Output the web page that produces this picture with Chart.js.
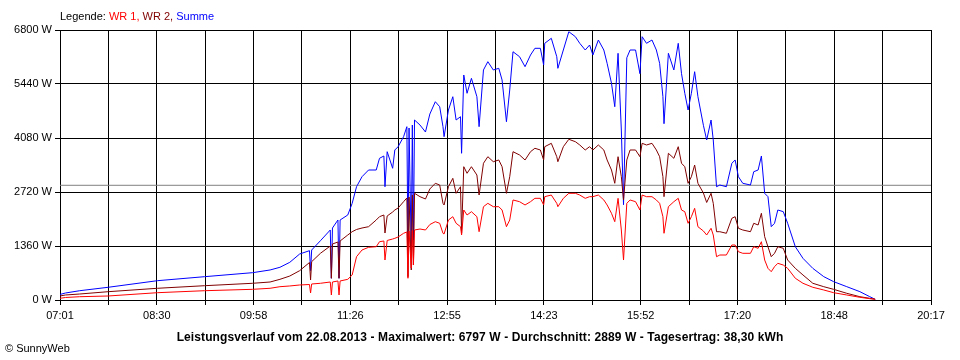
<!DOCTYPE html>
<html>
<head>
<meta charset="utf-8">
<script src="https://cdn.jsdelivr.net/npm/chart.js@4/dist/chart.umd.min.js"></script>
<style>
    body { margin: 0; background: #fff; font-family: "Liberation Sans", Arial, sans-serif; }
    #wrap { position: relative; width: 960px; height: 360px; }
    #legend { position: absolute; left: 60px; top: 10px; font-size: 11px; line-height: 13px; }
    #caption { position: absolute; left: 0; width: 960px; top: 330px; text-align: center; font-size: 12px; font-weight: bold; line-height: 14px; letter-spacing: 0.1px; }
    #copy { position: absolute; left: 5px; top: 342px; font-size: 11px; line-height: 13px; }
</style>
</head>
<body>
<div id="wrap">
    <canvas id="powerChart" width="960" height="360"></canvas>
    <div id="legend">Legende: <span style="color:#ff0000">WR 1,</span> <span style="color:#800000">WR 2,</span> <span style="color:#0000ff">Summe</span></div>
    <div id="caption">Leistungsverlauf vom 22.08.2013 - Maximalwert: 6797 W - Durchschnitt: 2889 W - Tagesertrag: 38,30 kWh</div>
    <div id="copy">© SunnyWeb</div>
</div>
<script>
// x axis labels (every second grid line)
const xLabels = ['07:01', '08:30', '09:58', '11:26', '12:55', '14:23', '15:52', '17:20', '18:48', '20:17'];
const yTicks = [0, 1360, 2720, 4080, 5440, 6800];
const average = 2889;

// sample times
const times = [
    '07:01', '07:06', '07:19', '07:45', '08:30', '09:13', '09:57', '10:13', '10:22', '10:31',
    '10:40', '10:49', '10:50', '10:51', '10:59', '11:08', '11:09', '11:10', '11:15', '11:16',
    '11:17', '11:24', '11:28', '11:32', '11:37', '11:43', '11:50', '11:53', '11:57', '11:58',
    '12:00', '12:05', '12:07', '12:10', '12:15', '12:18', '12:19', '12:20', '12:22', '12:23',
    '12:24', '12:25', '12:30', '12:35', '12:39', '12:44', '12:48', '12:51', '12:52', '12:56',
    '13:00', '13:03', '13:07', '13:08', '13:10', '13:13', '13:17', '13:22', '13:24', '13:28',
    '13:32', '13:37', '13:42', '13:45', '13:49', '13:52', '13:55', '14:01', '14:06', '14:11',
    '14:15', '14:20', '14:23', '14:24', '14:30', '14:35', '14:36', '14:41', '14:46', '14:52',
    '14:56', '15:01', '15:05', '15:08', '15:13', '15:18', '15:21', '15:25', '15:28', '15:31',
    '15:34', '15:36', '15:39', '15:42', '15:47', '15:51', '15:53', '15:57', '16:02', '16:06',
    '16:09', '16:12', '16:13', '16:17', '16:22', '16:26', '16:29', '16:32', '16:35', '16:38',
    '16:41', '16:44', '16:49', '16:52', '16:56', '16:58', '17:01', '17:04', '17:10', '17:15',
    '17:18', '17:21', '17:25', '17:32', '17:35', '17:39', '17:42', '17:45', '17:48', '17:51',
    '17:54', '17:57', '18:02', '18:06', '18:13', '18:20', '18:29', '18:39', '18:48', '19:00',
    '19:12', '19:21', '19:26'
];

const wr1 = [
    43, 63, 83, 101, 184, 234, 269, 295, 335, 353,
    378, 390, 176, 403, 421, 453, 126, 453, 479, 126,
    479, 521, 630, 1091, 1259, 1327, 1342, 1468, 1486, 1007,
    1499, 1536, 1554, 1587, 1680, 1713, 547, 1738, 806, 1750,
    881, 1763, 1788, 1763, 1901, 1972, 1932, 1680, 1662, 2015,
    2098, 1932, 1846, 1637, 2267, 2141, 2224, 2098, 1720, 2350,
    2435, 2350, 2350, 2267, 1846, 2015, 2519, 2476, 2393, 2476,
    2561, 2561, 2393, 2602, 2644, 2435, 2350, 2561, 2687, 2687,
    2644, 2561, 2602, 2602, 2644, 2519, 2393, 2184, 1972, 2561,
    1763, 1007, 2435, 2519, 2476, 2267, 2644, 2602, 2602, 2519,
    2435, 2098, 1680, 2350, 2476, 2561, 2267, 2224, 1932, 2098,
    2309, 1846, 1738, 1637, 1806, 1637, 1091, 1133, 1133, 1385,
    1385, 1216, 1176, 1176, 1342, 1302, 1468, 1007, 798, 713,
    839, 924, 881, 798, 547, 421, 320, 252, 184, 126,
    68, 33, 18
];

const wr2 = [
    101, 126, 151, 209, 295, 360, 421, 453, 521, 604,
    738, 944, 504, 965, 1176, 1360, 547, 1410, 1461, 547,
    1486, 1637, 1720, 1776, 1813, 1846, 2015, 2098, 2141, 1687,
    2116, 2216, 2267, 2317, 2476, 2569, 587, 2594, 756, 2644,
    881, 2687, 2602, 2544, 2796, 2939, 2896, 2435, 2393, 2853,
    3065, 2687, 2853, 1680, 3357, 3191, 3357, 3148, 2644, 3443,
    3609, 3483, 3526, 3357, 2687, 3105, 3735, 3652, 3526, 3735,
    3821, 3778, 3526, 3861, 3946, 3609, 3483, 3861, 4047, 3987,
    3904, 3778, 3861, 3778, 3904, 3778, 3526, 3274, 2939, 3609,
    3105, 2519, 3526, 3778, 3778, 3609, 3946, 3904, 3946, 3778,
    3609, 3105, 2602, 3695, 3569, 3861, 3443, 3357, 2939, 3105,
    3400, 2939, 2695, 2456, 2687, 2435, 1720, 1720, 1680, 2058,
    2098, 1806, 1763, 1720, 1932, 1889, 2184, 1594, 1342, 1091,
    1176, 1342, 1302, 1007, 798, 630, 421, 335, 269, 169,
    83, 43, 18
];

const summe = [
    140, 176, 234, 320, 486, 587, 688, 756, 824, 949,
    1158, 1242, 738, 1259, 1493, 1763, 547, 1813, 2015, 547,
    2015, 2141, 2435, 2853, 3105, 3274, 3274, 3569, 3627, 2853,
    3735, 3317, 3778, 3861, 4113, 4365, 1259, 4332, 1259, 4407,
    1511, 4533, 4407, 4231, 4684, 4994, 4868, 4365, 4113, 4785,
    5120, 4533, 4616, 3695, 5667, 5206, 5583, 5120, 4365, 5793,
    6002, 5793, 5835, 5541, 4490, 5289, 6253, 6127, 5876, 6170,
    6339, 6339, 5918, 6465, 6591, 6127, 5835, 6296, 6757, 6631,
    6465, 6296, 6422, 6170, 6548, 6296, 5961, 5458, 4868, 6213,
    4281, 2400, 6100, 6296, 6296, 5700, 6631, 6465, 6548, 6296,
    5961, 5120, 4440, 6213, 5793, 6465, 5700, 5206, 4785, 5206,
    5750, 5120, 4400, 4030, 4533, 4030, 2853, 2896, 2853, 3443,
    3527, 3105, 2939, 2896, 3231, 3274, 3627, 2686, 2603, 1847,
    1931, 2267, 2225, 1931, 1343, 1049, 797, 588, 462, 336,
    210, 84, 17
];

function toMinutes(t) {
    const [h, m] = t.split(':').map(Number);
    return h * 60 + m - (7 * 60 + 1);
}

function series(values) {
    return times.map((t, i) => ({ x: toMinutes(t), y: values[i] }));
}

const xMax = toMinutes(xLabels[xLabels.length - 1]);
const steps = (xLabels.length - 1) * 2;
const fontSpec = { family: '"Liberation Sans", Arial, sans-serif', size: 11 };

const ctx = document.getElementById('powerChart').getContext('2d');
new Chart(ctx, {
    type: 'line',
    data: {
        datasets: [
            { label: 'WR 1', data: series(wr1), borderColor: '#ff0000', borderWidth: 1 },
            { label: 'WR 2', data: series(wr2), borderColor: '#800000', borderWidth: 1 },
            { label: 'Summe', data: series(summe), borderColor: '#0000ff', borderWidth: 1 },
            { label: 'Durchschnitt', data: [{ x: 0, y: average }, { x: xMax, y: average }], borderColor: '#808080', borderWidth: 1 }
        ]
    },
    options: {
        responsive: false,
        animation: false,
        events: [],
        elements: { point: { radius: 0 }, line: { tension: 0, fill: false } },
        layout: { padding: { top: 30, right: 29, bottom: 0, left: 0 } },
        plugins: { legend: { display: false }, tooltip: { enabled: false } },
        scales: {
            x: {
                type: 'linear',
                min: 0,
                max: xMax,
                afterBuildTicks: (scale) => {
                    const ticks = [];
                    for (let i = 0; i <= steps; i++) ticks.push({ value: i * xMax / steps });
                    scale.ticks = ticks;
                },
                afterFit: (scale) => { scale.height = 60; },
                grid: { color: '#000', lineWidth: 1, tickLength: 5 },
                border: { color: '#000' },
                ticks: {
                    autoSkip: false,
                    maxRotation: 0,
                    padding: 4,
                    color: '#000',
                    font: fontSpec,
                    callback: (value, index) => index % 2 === 0 ? xLabels[index / 2] : ''
                }
            },
            y: {
                min: 0,
                max: yTicks[yTicks.length - 1],
                afterBuildTicks: (scale) => { scale.ticks = yTicks.map(v => ({ value: v })); },
                afterFit: (scale) => { scale.width = 60; },
                grid: { color: '#000', lineWidth: 1, tickLength: 5 },
                border: { color: '#000' },
                ticks: {
                    padding: 3,
                    color: '#000',
                    font: fontSpec,
                    callback: (value) => value + ' W'
                }
            }
        }
    }
});
</script>
</body>
</html>
